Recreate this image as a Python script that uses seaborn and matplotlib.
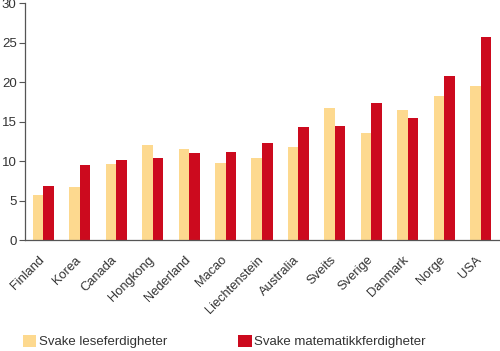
import matplotlib
matplotlib.use("Agg")
import matplotlib.pyplot as plt
import matplotlib.transforms as mtransforms
from matplotlib.patches import Patch
import seaborn as sns
import pandas as pd
import numpy as np

countries = ["Finland", "Korea", "Canada", "Hongkong", "Nederland", "Macao",
             "Liechtenstein", "Australia", "Sveits", "Sverige", "Danmark", "Norge", "USA"]
lese = [5.7, 6.7, 9.6, 12.0, 11.5, 9.7, 10.45, 11.8, 16.7, 13.5, 16.5, 18.2, 19.5]
mate = [6.8, 9.5, 10.1, 10.45, 11.0, 11.1, 12.3, 14.3, 14.5, 17.3, 15.4, 20.8, 25.75]
series = ["Svake leseferdigheter", "Svake matematikkferdigheter"]
colors = ["#FDD98F", "#CC0A1E"]
yticks = [0, 5, 10, 15, 20, 25, 30]

df = pd.DataFrame({
    "land": countries * 2,
    "verdi": lese + mate,
    "serie": [series[0]] * len(countries) + [series[1]] * len(countries),
})

sns.set_style("white")
plt.rcParams["font.family"] = ["Liberation Sans", "DejaVu Sans"]

fig = plt.figure(figsize=(5.0, 3.51), dpi=100)
ax = fig.add_axes([0.05, 0.316, 0.948, 0.675])
sns.barplot(data=df, x="land", y="verdi", hue="serie", palette=colors,
            width=0.58, gap=0, ax=ax, legend=False, saturation=1,
            linewidth=0, edgecolor="none")

ax.set_xlim(-0.5, len(countries) - 0.5)
ax.set_ylim(0, 30)
ax.set_yticks(yticks)
ax.set_yticklabels([str(t) for t in yticks], fontsize=9.5, color="#333333")
ax.set_xlabel("")
ax.set_ylabel("")

ax.set_xticks(np.arange(len(countries)))
ax.set_xticklabels(countries, rotation=45, ha="right", rotation_mode="anchor",
                   fontsize=9.3, color="#333333")
ax.tick_params(axis="x", which="major", length=0, pad=10)
offset = mtransforms.ScaledTranslation(-5 / 100, 0, fig.dpi_scale_trans)
for lbl in ax.get_xticklabels():
    lbl.set_transform(lbl.get_transform() + offset)
ax.set_xticks(np.arange(len(countries) + 1) - 0.5, minor=True)
ax.tick_params(axis="x", which="minor", length=4, width=0.8, color="#555555", direction="out")
ax.tick_params(axis="y", length=4, width=0.8, color="#555555", direction="out", pad=2, left=True)

for s in ["top", "right"]:
    ax.spines[s].set_visible(False)
for s in ["left", "bottom"]:
    ax.spines[s].set_color("#555555")
    ax.spines[s].set_linewidth(0.9)

handles = [Patch(facecolor=c, edgecolor="none") for c in colors]
fig.legend(handles, series, loc="center left", bbox_to_anchor=(23 / 500, 1 - 341.5 / 351),
           ncol=2, frameon=False, fontsize=9.5, handlelength=1.0, handleheight=1.0,
           handletextpad=0.2, columnspacing=5.4, labelcolor="#333333",
           borderpad=0, borderaxespad=0)

fig.savefig("out.png", dpi=100)
